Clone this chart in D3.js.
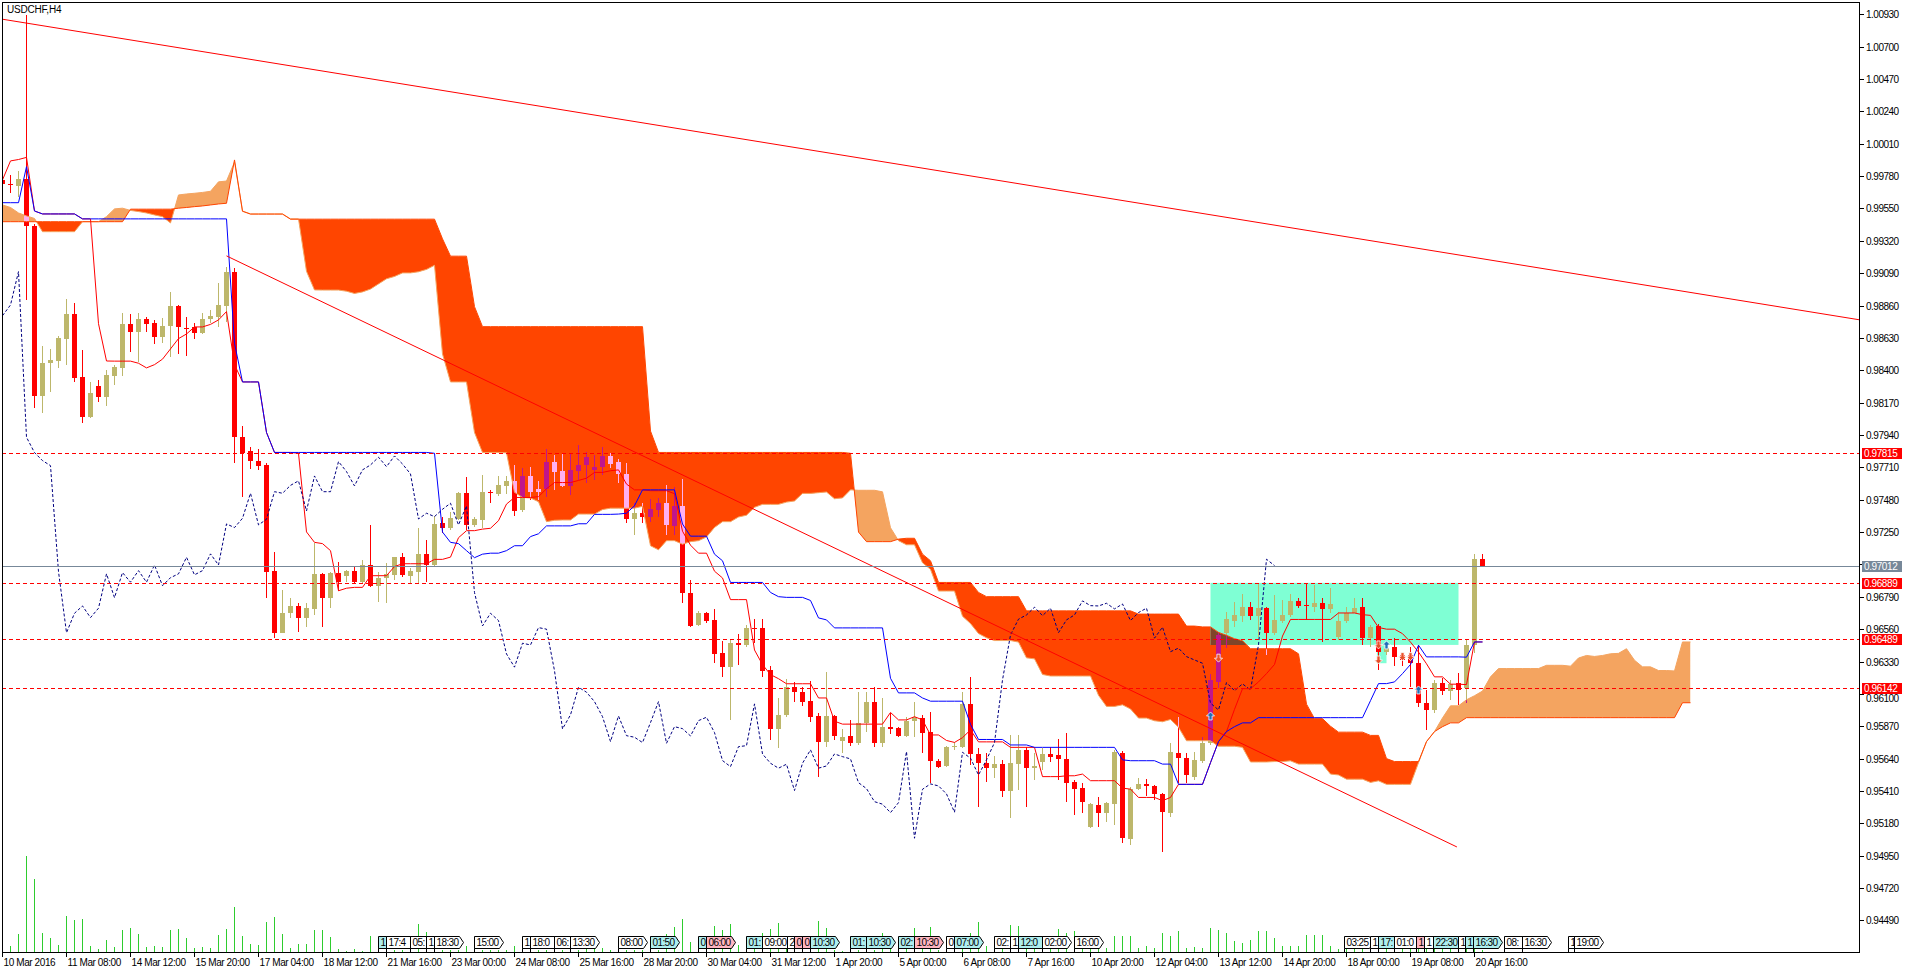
<!DOCTYPE html>
<html><head><meta charset="utf-8">
<script src="https://cdn.jsdelivr.net/npm/d3@7/dist/d3.min.js"></script>
<style>
html,body{margin:0;padding:0;background:#fff;overflow:hidden}
svg{display:block}
text{font-family:"Liberation Sans",Arial,sans-serif;}
</style>
</head><body>
<svg id="chart" width="1912" height="973"></svg>
<script>
// ---------------- DATA ----------------
const symbolTitle = "USDCHF,H4";
// H4 candles [open, high, low, close]
const ohlc = [
[0.99753,0.99767,0.99710,0.99724],[0.99724,0.99788,0.99658,0.99721],[0.99710,0.99817,0.99634,0.99758],[0.99758,1.00925,0.98900,0.99426],[0.99426,0.99440,0.98134,0.98218],
[0.98218,0.98573,0.98095,0.98450],[0.98450,0.98552,0.98248,0.98474],[0.98469,0.98646,0.98419,0.98632],[0.98623,0.98907,0.98438,0.98800],[0.98800,0.98876,0.98319,0.98348],
[0.98351,0.98545,0.98024,0.98071],[0.98071,0.98319,0.98060,0.98237],[0.98289,0.98331,0.98177,0.98213],[0.98213,0.98402,0.98149,0.98365],[0.98362,0.98438,0.98296,0.98426],
[0.98419,0.98805,0.98362,0.98729],[0.98729,0.98800,0.98533,0.98675],[0.98675,0.98810,0.98461,0.98763],[0.98763,0.98781,0.98675,0.98727],[0.98739,0.98758,0.98585,0.98639],
[0.98639,0.98770,0.98596,0.98717],[0.98717,0.98955,0.98497,0.98857],[0.98857,0.98864,0.98516,0.98710],[0.98703,0.98781,0.98504,0.98694],[0.98710,0.98734,0.98621,0.98668],
[0.98668,0.98805,0.98656,0.98763],[0.98763,0.98829,0.98734,0.98788],[0.98781,0.99019,0.98710,0.98864],[0.98857,0.99137,0.98746,0.99101],[0.99101,0.99125,0.97744,0.97924],
[0.97924,0.98004,0.97498,0.97815],[0.97827,0.97857,0.97697,0.97758],[0.97756,0.97841,0.97692,0.97722],[0.97727,0.97739,0.96780,0.96969],[0.96974,0.97111,0.96496,0.96535],
[0.96535,0.96839,0.96531,0.96673],[0.96673,0.96780,0.96638,0.96725],[0.96725,0.96749,0.96542,0.96642],[0.96642,0.96744,0.96578,0.96709],[0.96704,0.97171,0.96661,0.96953],
[0.96953,0.96962,0.96578,0.96784],[0.96784,0.96969,0.96709,0.96962],[0.96958,0.97036,0.96834,0.96894],[0.96941,0.96981,0.96894,0.96976],[0.96976,0.97004,0.96890,0.96894],
[0.96894,0.97052,0.96886,0.97016],[0.97016,0.97301,0.96862,0.96869],[0.96869,0.96969,0.96756,0.96926],[0.96922,0.97029,0.96749,0.96953],[0.96946,0.97076,0.96910,0.97071],
[0.97071,0.97100,0.96933,0.96946],[0.96941,0.96993,0.96881,0.96976],[0.96969,0.97277,0.96886,0.97095],[0.97095,0.97194,0.96898,0.97016],[0.97016,0.97365,0.97004,0.97308],
[0.97313,0.97360,0.97242,0.97282],[0.97277,0.97395,0.97265,0.97348],[0.97341,0.97537,0.97336,0.97526],[0.97530,0.97640,0.97265,0.97301],[0.97301,0.97360,0.97289,0.97341],
[0.97336,0.97656,0.97277,0.97537],[0.97537,0.97550,0.97455,0.97526],[0.97521,0.97649,0.97507,0.97582],[0.97580,0.97649,0.97519,0.97614],[0.97614,0.97727,0.97365,0.97400],
[0.97407,0.97704,0.97395,0.97649],[0.97649,0.97715,0.97479,0.97537],[0.97554,0.97614,0.97479,0.97537],[0.97554,0.97839,0.97502,0.97751],[0.97751,0.97798,0.97550,0.97680],
[0.97685,0.97815,0.97569,0.97578],[0.97578,0.97815,0.97514,0.97692],[0.97687,0.97869,0.97621,0.97727],[0.97727,0.97822,0.97597,0.97782],[0.97692,0.97798,0.97621,0.97715],
[0.97715,0.97857,0.97656,0.97791],[0.97791,0.97815,0.97704,0.97734],[0.97746,0.97768,0.97597,0.97663],[0.97663,0.97739,0.97313,0.97343],[0.97343,0.97455,0.97230,0.97384],
[0.97384,0.97455,0.97313,0.97360],[0.97360,0.97486,0.97324,0.97412],[0.97407,0.97491,0.97360,0.97455],[0.97455,0.97585,0.97230,0.97301],[0.97294,0.97573,0.97230,0.97436],
[0.97436,0.97626,0.96744,0.96820],[0.96815,0.96910,0.96574,0.96583],[0.96590,0.96692,0.96580,0.96673],[0.96673,0.96685,0.96607,0.96621],[0.96626,0.96702,0.96318,0.96384],
[0.96389,0.96479,0.96223,0.96290],[0.96290,0.96489,0.95915,0.96460],[0.96460,0.96526,0.96306,0.96448],[0.96448,0.96590,0.96436,0.96571],[0.96571,0.96631,0.96460,0.96560],
[0.96567,0.96631,0.96219,0.96265],[0.96270,0.96301,0.95773,0.95851],[0.95851,0.96069,0.95714,0.95951],[0.95951,0.96204,0.95934,0.96147],[0.96147,0.96187,0.96045,0.96112],
[0.96112,0.96147,0.96014,0.96045],[0.96050,0.96194,0.95903,0.95938],[0.95943,0.95962,0.95512,0.95761],[0.95761,0.96258,0.95725,0.95943],[0.95943,0.95951,0.95773,0.95803],
[0.95768,0.95849,0.95678,0.95792],[0.95801,0.95915,0.95730,0.95754],[0.95749,0.96116,0.95737,0.95896],[0.95892,0.96116,0.95832,0.96045],[0.96045,0.96152,0.95725,0.95749],
[0.95749,0.96073,0.95725,0.95867],[0.95863,0.95962,0.95816,0.95853],[0.95856,0.95867,0.95792,0.95801],[0.95801,0.95938,0.95796,0.95910],[0.95910,0.96045,0.95796,0.95934],
[0.95927,0.95951,0.95678,0.95825],[0.95832,0.95974,0.95465,0.95626],[0.95626,0.95636,0.95572,0.95583],[0.95588,0.95730,0.95583,0.95725],[0.95721,0.95757,0.95702,0.95732],
[0.95725,0.96112,0.95714,0.96029],[0.96029,0.96223,0.95595,0.95673],[0.95673,0.95714,0.95295,0.95607],[0.95607,0.95678,0.95477,0.95572],[0.95572,0.95659,0.95501,0.95600],
[0.95602,0.95631,0.95366,0.95413],[0.95413,0.95808,0.95216,0.95607],[0.95602,0.95808,0.95417,0.95702],[0.95702,0.95721,0.95295,0.95572],[0.95572,0.95678,0.95488,0.95588],
[0.95619,0.95714,0.95560,0.95673],[0.95673,0.95725,0.95619,0.95654],[0.95666,0.95778,0.95488,0.95638],[0.95638,0.95820,0.95334,0.95469],[0.95472,0.95489,0.95240,0.95427],
[0.95434,0.95465,0.95256,0.95334],[0.95157,0.95323,0.95145,0.95316],[0.95311,0.95370,0.95157,0.95256],[0.95256,0.95334,0.95192,0.95327],[0.95318,0.95702,0.95169,0.95690],
[0.95678,0.95697,0.95039,0.95074],[0.95067,0.95437,0.95027,0.95422],[0.95422,0.95501,0.95417,0.95460],[0.95460,0.95494,0.95375,0.95446],[0.95446,0.95453,0.95346,0.95389],
[0.95389,0.95398,0.94979,0.95259],[0.95256,0.95749,0.95223,0.95685],[0.95678,0.95934,0.95465,0.95643],[0.95643,0.95678,0.95465,0.95524],[0.95512,0.95685,0.95489,0.95631],
[0.95626,0.95796,0.95607,0.95754],[0.95749,0.96242,0.95737,0.96199],[0.96187,0.96543,0.96140,0.96519],[0.96535,0.96685,0.96425,0.96631],[0.96621,0.96756,0.96578,0.96661],
[0.96656,0.96808,0.96614,0.96716],[0.96716,0.96756,0.96626,0.96656],[0.96656,0.96882,0.96507,0.96709],[0.96709,0.96720,0.96377,0.96535],[0.96535,0.96803,0.96519,0.96626],
[0.96621,0.96768,0.96607,0.96661],[0.96661,0.96808,0.96645,0.96761],[0.96761,0.96780,0.96709,0.96727],[0.96732,0.96879,0.96626,0.96725],[0.96720,0.96874,0.96685,0.96744],
[0.96744,0.96780,0.96471,0.96704],[0.96704,0.96851,0.96673,0.96739],[0.96507,0.96685,0.96483,0.96621],[0.96621,0.96720,0.96603,0.96678],[0.96678,0.96780,0.96673,0.96709],
[0.96720,0.96784,0.96448,0.96496],[0.96496,0.96590,0.96436,0.96574],[0.96583,0.96597,0.96270,0.96400],[0.96400,0.96460,0.96377,0.96425],[0.96432,0.96496,0.96299,0.96365],
[0.96377,0.96389,0.96299,0.96341],[0.96377,0.96432,0.96152,0.96318],[0.96318,0.96448,0.96010,0.96034],[0.96034,0.96128,0.95844,0.95986],[0.95986,0.96199,0.95962,0.96180],
[0.96176,0.96211,0.96093,0.96123],[0.96123,0.96199,0.96057,0.96171],[0.96176,0.96247,0.96022,0.96128],[0.96140,0.96489,0.96034,0.96448],[0.96448,0.97095,0.96389,0.97057],
[0.97057,0.97095,0.97012,0.97012]
];
// tick volume per bar
const volumes = [
400,570,1830,9570,7330,1930,1430,730,3630,3230, 3330,630,330,1230,530,2230,2430,1830,530,630,
530,2230,2330,1430,430,530,430,1730,2330,4530, 1630,830,730,3030,3530,1830,430,830,830,2230,
2230,1530,330,100,330,100,1630,600,400,230, 230,500,2830,2030,600,230,230,230,630,500,
230,230,230,230,630,400,300,230,230,300, 230,300,230,300,400,430,230,300,230,230,
230,500,230,1830,2500,3330,1030,400,400,2630, 2230,2830,730,400,500,1930,2330,2930,500,400,
400,500,3130,2430,230,100,300,230,300,230, 1930,300,400,300,2430,300,2530,230,300,500,
1400,1900,2970,600,500,400,2730,2570,500,400, 300,400,2330,1900,2130,600,500,400,400,1630,
1630,1630,400,570,400,1900,1630,2070,400,500, 400,2400,2230,1900,1070,900,1230,2130,2130,1400,
570,570,570,1670,1670,1730,570,300,300,400, 400,300,400,300,300,300,400,500,300,300,
300,300,300,400,500,200
];
// Ichimoku Tenkan-sen (read per bar)
const tenkan = [
0.99753,0.99888,0.99898,0.99913,0.99532,0.99511,0.99511,0.99511,0.99511,0.99511,
0.99476,0.99476,0.98731,0.98466,0.98465,0.98465,0.98465,0.98450,0.98417,0.98440,
0.98479,0.98552,0.98625,0.98658,0.98708,0.98708,0.98726,0.98758,0.98817,0.98440,
0.98317,0.98317,0.98317,0.97958,0.97816,0.97816,0.97816,0.97810,0.97251,0.97177,
0.97168,0.97118,0.96833,0.96851,0.96857,0.96857,0.96940,0.96940,0.96940,0.97005,
0.97025,0.97025,0.97025,0.97025,0.97056,0.97056,0.97072,0.97210,0.97260,0.97260,
0.97271,0.97277,0.97331,0.97449,0.97496,0.97496,0.97496,0.97502,0.97558,0.97602,
0.97602,0.97602,0.97617,0.97633,0.97674,0.97674,0.97686,0.97692,0.97591,0.97550,
0.97550,0.97544,0.97544,0.97544,0.97523,0.97256,0.97157,0.97100,0.97100,0.96972,
0.96924,0.96770,0.96770,0.96770,0.96412,0.96308,0.96237,0.96208,0.96172,0.96172,
0.96172,0.96172,0.96071,0.96071,0.95906,0.95885,0.95885,0.95885,0.95885,0.95885,
0.95885,0.95968,0.95915,0.95915,0.95938,0.95915,0.95808,0.95808,0.95769,0.95755,
0.95789,0.95844,0.95759,0.95759,0.95759,0.95759,0.95720,0.95720,0.95720,0.95720,
0.95512,0.95512,0.95512,0.95518,0.95518,0.95530,0.95483,0.95483,0.95483,0.95483,
0.95430,0.95423,0.95364,0.95364,0.95364,0.95341,0.95364,0.95457,0.95457,0.95457,
0.95457,0.95611,0.95761,0.95832,0.95990,0.96137,0.96137,0.96185,0.96244,0.96309,
0.96511,0.96629,0.96629,0.96629,0.96629,0.96629,0.96629,0.96675,0.96675,0.96675,
0.96663,0.96658,0.96572,0.96560,0.96560,0.96528,0.96468,0.96397,0.96314,0.96221,
0.96221,0.96169,0.96169,0.96166,0.96469,0.96469
];
// Ichimoku Kijun-sen (read per bar)
const kijun = [
0.99591,0.99591,0.99591,0.99847,0.99532,0.99511,0.99511,0.99511,0.99511,0.99511,
0.99476,0.99476,0.99476,0.99476,0.99476,0.99476,0.99476,0.99476,0.99476,0.99476,
0.99476,0.99476,0.99476,0.99476,0.99476,0.99476,0.99476,0.99476,0.99476,0.98592,
0.98317,0.98317,0.98317,0.97958,0.97816,0.97816,0.97816,0.97816,0.97816,0.97816,
0.97816,0.97816,0.97816,0.97816,0.97816,0.97816,0.97816,0.97816,0.97816,0.97816,
0.97816,0.97816,0.97816,0.97816,0.97810,0.97250,0.97177,0.97168,0.97118,0.97068,
0.97093,0.97100,0.97100,0.97118,0.97153,0.97153,0.97218,0.97238,0.97294,0.97294,
0.97294,0.97294,0.97309,0.97309,0.97376,0.97376,0.97376,0.97378,0.97384,0.97437,
0.97550,0.97550,0.97550,0.97550,0.97550,0.97307,0.97221,0.97221,0.97221,0.97093,
0.97046,0.96892,0.96892,0.96892,0.96892,0.96892,0.96821,0.96791,0.96786,0.96786,
0.96786,0.96764,0.96640,0.96626,0.96569,0.96569,0.96569,0.96569,0.96569,0.96569,
0.96569,0.96211,0.96107,0.96107,0.96107,0.96071,0.96048,0.96048,0.96048,0.96048,
0.96048,0.95883,0.95776,0.95776,0.95776,0.95776,0.95737,0.95737,0.95737,0.95720,
0.95720,0.95720,0.95720,0.95720,0.95720,0.95720,0.95720,0.95720,0.95720,0.95720,
0.95631,0.95625,0.95625,0.95625,0.95625,0.95601,0.95601,0.95457,0.95457,0.95457,
0.95457,0.95611,0.95761,0.95832,0.95867,0.95894,0.95894,0.95931,0.95931,0.95931,
0.95931,0.95931,0.95931,0.95931,0.95931,0.95931,0.95931,0.95931,0.95931,0.95931,
0.95931,0.96052,0.96173,0.96173,0.96185,0.96244,0.96309,0.96446,0.96363,0.96363,
0.96363,0.96363,0.96363,0.96361,0.96469,0.96469
];
// Senkou Span A (already shifted 26 bars ahead; 212 points)
const spanA = [
0.99575,0.99557,0.99518,0.99497,0.99479,0.99385,0.99385,0.99385,0.99385,0.99385,
0.99456,0.99456,0.99456,0.99492,0.99547,0.99552,0.99536,0.99528,0.99518,0.99504,
0.99492,0.99447,0.99646,0.99653,0.99658,0.99664,0.99672,0.99739,0.99745,0.99880,
0.99532,0.99511,0.99511,0.99511,0.99511,0.99511,0.99476,0.99476,0.99103,0.98971,
0.98970,0.98970,0.98970,0.98962,0.98946,0.98957,0.98977,0.99014,0.99050,0.99067,
0.99092,0.99092,0.99100,0.99117,0.99146,0.98516,0.98317,0.98317,0.98317,0.97958,
0.97816,0.97816,0.97816,0.97813,0.97533,0.97496,0.97492,0.97466,0.97324,0.97334,
0.97336,0.97336,0.97378,0.97378,0.97378,0.97410,0.97420,0.97420,0.97420,0.97420,
0.97433,0.97153,0.97124,0.97189,0.97189,0.97164,0.97182,0.97189,0.97215,0.97283,
0.97324,0.97324,0.97357,0.97370,0.97426,0.97447,0.97447,0.97447,0.97463,0.97471,
0.97525,0.97525,0.97530,0.97535,0.97487,0.97493,0.97550,0.97547,0.97547,0.97547,
0.97536,0.97281,0.97189,0.97160,0.97160,0.97032,0.96985,0.96831,0.96831,0.96831,
0.96652,0.96600,0.96529,0.96499,0.96479,0.96479,0.96479,0.96468,0.96356,0.96349,
0.96238,0.96227,0.96227,0.96227,0.96227,0.96227,0.96227,0.96090,0.96011,0.96011,
0.96022,0.95993,0.95928,0.95928,0.95909,0.95902,0.95918,0.95863,0.95767,0.95767,
0.95767,0.95767,0.95728,0.95728,0.95728,0.95720,0.95616,0.95616,0.95616,0.95619,
0.95619,0.95624,0.95601,0.95601,0.95601,0.95601,0.95530,0.95524,0.95494,0.95494,
0.95494,0.95471,0.95482,0.95457,0.95457,0.95457,0.95457,0.95611,0.95761,0.95832,
0.95929,0.96015,0.96015,0.96058,0.96087,0.96120,0.96221,0.96280,0.96280,0.96280,
0.96280,0.96280,0.96280,0.96303,0.96303,0.96303,0.96297,0.96355,0.96373,0.96366,
0.96373,0.96385,0.96388,0.96421,0.96339,0.96292,0.96292,0.96266,0.96266,0.96263,
0.96469,0.96469
];
// Senkou Span B (already shifted 26 bars ahead; 212 points)
const spanB = [
0.99456,0.99456,0.99456,0.99456,0.99456,0.99456,0.99456,0.99456,0.99456,0.99456,
0.99456,0.99456,0.99456,0.99456,0.99456,0.99456,0.99545,0.99545,0.99545,0.99545,
0.99545,0.99545,0.99552,0.99557,0.99563,0.99568,0.99575,0.99582,0.99587,0.99895,
0.99530,0.99510,0.99510,0.99510,0.99510,0.99510,0.99474,0.99474,0.99474,0.99474,
0.99474,0.99474,0.99474,0.99474,0.99474,0.99474,0.99474,0.99474,0.99474,0.99474,
0.99474,0.99474,0.99474,0.99474,0.99474,0.99334,0.99211,0.99211,0.99211,0.98852,
0.98710,0.98710,0.98710,0.98710,0.98710,0.98710,0.98710,0.98710,0.98710,0.98710,
0.98710,0.98710,0.98710,0.98710,0.98710,0.98710,0.98710,0.98710,0.98710,0.98710,
0.98710,0.97968,0.97816,0.97816,0.97816,0.97816,0.97816,0.97816,0.97816,0.97816,
0.97816,0.97816,0.97816,0.97816,0.97816,0.97816,0.97816,0.97816,0.97816,0.97816,
0.97816,0.97816,0.97816,0.97816,0.97816,0.97816,0.97810,0.97250,0.97182,0.97182,
0.97182,0.97182,0.97200,0.97206,0.97206,0.97093,0.97046,0.96892,0.96892,0.96892,
0.96892,0.96892,0.96821,0.96791,0.96791,0.96791,0.96791,0.96791,0.96690,0.96690,
0.96690,0.96690,0.96690,0.96690,0.96690,0.96690,0.96690,0.96690,0.96690,0.96690,
0.96690,0.96690,0.96667,0.96667,0.96667,0.96667,0.96667,0.96667,0.96582,0.96582,
0.96576,0.96576,0.96537,0.96516,0.96492,0.96478,0.96421,0.96421,0.96421,0.96421,
0.96421,0.96421,0.96385,0.96027,0.95924,0.95924,0.95870,0.95828,0.95828,0.95828,
0.95828,0.95805,0.95805,0.95640,0.95619,0.95619,0.95619,0.95619,0.95761,0.95832,
0.95867,0.95894,0.95894,0.95931,0.95931,0.95931,0.95931,0.95931,0.95931,0.95931,
0.95931,0.95931,0.95931,0.95931,0.95931,0.95931,0.95931,0.95931,0.95931,0.95931,
0.95931,0.95931,0.95931,0.95931,0.95931,0.95931,0.95931,0.95931,0.95931,0.95931,
0.96037,0.96037
];
const chikouShift = 26;
// horizontal levels drawn on the chart
const levels = [0.97815, 0.96889, 0.96489, 0.96142];
const bidPrice = 0.97012;
// trend lines [bar0, price0, bar1, price1]
const trendLines = [[0, 1.00895, 232.19, 0.98758], [28, 0.99213, 181.8, 0.95012]];
// rectangles [bar0, bar1, priceTop, priceBottom]
const rectangles = [[151, 182, 0.96889, 0.96448], [171.8, 173, 0.96448, 0.96318]];
// trade arrows [bar, price, direction]
const tradeArrows = [[151,0.95943,"up"],[152,0.96354,"down"],[172,0.96448,"down"],[172,0.96341,"down"],
  [173,0.96448,"up"],[175,0.96365,"down"],[176,0.96365,"down"],[177,0.96128,"up"]];
// axis labels
const xTickLabels = ["10 Mar 2016","11 Mar 08:00","14 Mar 12:00","15 Mar 20:00","17 Mar 04:00","18 Mar 12:00",
  "21 Mar 16:00","23 Mar 00:00","24 Mar 08:00","25 Mar 16:00","28 Mar 20:00","30 Mar 04:00","31 Mar 12:00",
  "1 Apr 20:00","5 Apr 00:00","6 Apr 08:00","7 Apr 16:00","10 Apr 20:00","12 Apr 04:00","13 Apr 12:00",
  "14 Apr 20:00","18 Apr 00:00","19 Apr 08:00","20 Apr 16:00"];
const xTickEvery = 8;
const yTickLabels = ["1.00930","1.00700","1.00470","1.00240","1.00010","0.99780","0.99550","0.99320","0.99090",
  "0.98860","0.98630","0.98400","0.98170","0.97940","0.97710","0.97480","0.97250","0.97020","0.96790","0.96560",
  "0.96330","0.96100","0.95870","0.95640","0.95410","0.95180","0.94950","0.94720","0.94490"];
// calendar events [bar, time label, kind]
const events = [
 [47,"12:30","c"],[48,"17:40","w"],[51,"05:00","w"],[53,"11:00","w"],[54,"18:30","w"],
 [59,"15:00","w"],[65,"13:00","w"],[66,"18:00","w"],[69,"06:30","w"],[71,"13:30","w"],
 [77,"08:00","w"],[81,"01:50","c"],[87,"00:30","c"],[88,"06:00","p"],[93,"01:45","c"],
 [95,"09:00","w"],[98.1,"23:45","w"],[99,"01:00","p"],[100,"02:00","p"],[101,"10:30","c"],
 [106,"01:30","c"],[108,"10:30","c"],[112,"02:30","c"],[114,"10:30","p"],[118,"04:00","w"],
 [119,"07:00","c"],[124,"02:30","w"],[126,"12:30","w"],[127,"12:00","c"],[130,"02:00","w"],
 [134,"16:00","w"],[167.8,"03:25","w"],[171,"12:30","w"],[172,"17:00","c"],[174,"01:00","w"],
 [176.8,"12:00","p"],[177.8,"13:30","w"],[178.9,"22:30","c"],[182,"14:00","w"],[182.9,"12:30","c"],
 [183.9,"16:30","c"],[187.7,"08:30","w"],[190,"16:30","w"],[195.7,"12:30","w"],[196.5,"19:00","w"]
];

// ---------------- DRAW ----------------
const svg = d3.select("#chart");
const PL=2, PT=2, PR=1860, PB=952;
const x = d3.scaleLinear().domain([0, 232.1875]).range([2.5, 1860]);
const y = d3.scaleLinear().domain([0.942655, 1.010174]).range([952, 2]);
const defs = svg.append("defs");
defs.append("clipPath").attr("id","plotClip").append("rect")
  .attr("x",PL).attr("y",PT).attr("width",PR-PL).attr("height",PB-PT);
const gp = svg.append("g").attr("clip-path","url(#plotClip)");

// volumes
const vy = d3.scaleLinear().domain([0, d3.max(volumes)]).range([952, 856.3]);
gp.append("g").attr("shape-rendering","crispEdges").selectAll("line").data(volumes).join("line")
  .attr("x1",(d,i)=>x(i)).attr("x2",(d,i)=>x(i)).attr("y1",952).attr("y2",d=>vy(d))
  .attr("stroke","#2ECC2E").attr("stroke-width",1);

// cloud
const idxC = d3.range(spanA.length);
const areaAB = d3.area().x(i=>x(i)).y0(i=>y(spanB[i])).y1(i=>y(spanA[i]));
const aboveB = d3.area().x(i=>x(i)).y0(i=>y(spanB[i])).y1(0);
const belowB = d3.area().x(i=>x(i)).y0(i=>y(spanB[i])).y1(973);
defs.append("clipPath").attr("id","cAbove").append("path").attr("d",aboveB(idxC));
defs.append("clipPath").attr("id","cBelow").append("path").attr("d",belowB(idxC));
defs.append("clipPath").attr("id","cCloud").append("path").attr("d",areaAB(idxC));
gp.append("path").attr("d",areaAB(idxC)).attr("fill","#F4A460").attr("clip-path","url(#cAbove)");
gp.append("path").attr("d",areaAB(idxC)).attr("fill","#FF4500").attr("clip-path","url(#cBelow)");

// rectangles
const rc = defs.append("clipPath").attr("id","cRect");
rectangles.forEach(r=>{
  const rx=x(r[0]), rw=x(r[1])-x(r[0]), ry=y(r[2]), rh=y(r[3])-y(r[2]);
  gp.append("rect").attr("x",rx).attr("y",ry).attr("width",rw).attr("height",rh).attr("fill","#7FFFD4");
  rc.append("rect").attr("x",rx).attr("y",ry).attr("width",rw).attr("height",rh);
});
gp.append("g").attr("clip-path","url(#cRect)").append("path").attr("d",areaAB(idxC))
  .attr("fill","#7F452A").attr("clip-path","url(#cBelow)");

// candles
function drawCandles(parent, colUp, colDn){
  const gc = parent.append("g").attr("shape-rendering","crispEdges");
  ohlc.forEach((d,i)=>{
    const c = d[3] >= d[0] ? colUp : colDn;
    gc.append("line").attr("x1",x(i)).attr("x2",x(i)).attr("y1",y(d[1])).attr("y2",y(d[2])).attr("stroke",c);
    const yo=y(d[0]), yc=y(d[3]);
    gc.append("rect").attr("x",x(i)-2.5).attr("width",5).attr("y",Math.min(yo,yc))
      .attr("height",Math.max(1,Math.abs(yo-yc))).attr("fill",c);
  });
}
drawCandles(gp,"#BDB76B","#FF0000");
drawCandles(gp.append("g").attr("clip-path","url(#cCloud)"),"#C0168C","#FFB0F0");

// span lines
const ln = arr => d3.line().x(i=>x(i)).y(i=>y(arr[i]));
gp.append("path").attr("d",ln(spanA)(idxC)).attr("fill","none").attr("stroke","#F4A460");
gp.append("path").attr("d",ln(spanB)(idxC)).attr("fill","none").attr("stroke","#FF4500");
const idxP = d3.range(ohlc.length);
gp.append("path").attr("d",ln(tenkan)(idxP)).attr("fill","none").attr("stroke","#FF0000");
gp.append("path").attr("d",ln(kijun)(idxP)).attr("fill","none").attr("stroke","#0000FF");
const idxK = d3.range(ohlc.length - chikouShift);
gp.append("path").attr("d",d3.line().x(i=>x(i)).y(i=>y(ohlc[i+chikouShift][3]))(idxK))
  .attr("fill","none").attr("stroke","#000080").attr("stroke-dasharray","3,2");

// trend lines
trendLines.forEach(t=>{
  gp.append("line").attr("x1",x(t[0])).attr("y1",y(t[1])).attr("x2",x(t[2])).attr("y2",y(t[3]))
    .attr("stroke","#FF0000").attr("stroke-width",1);
});
// levels
levels.forEach(p=>{
  gp.append("line").attr("x1",PL).attr("x2",PR).attr("y1",Math.round(y(p))+0.5).attr("y2",Math.round(y(p))+0.5)
    .attr("stroke","#FF0000").attr("stroke-dasharray","4,3");
});
gp.append("line").attr("x1",PL).attr("x2",PR).attr("y1",Math.round(y(bidPrice))+0.5).attr("y2",Math.round(y(bidPrice))+0.5)
  .attr("stroke","#778899");

// trade arrows
tradeArrows.forEach(a=>{
  const cx=x(a[0]), cy=y(a[1]);
  const s = a[2]==="up" ? 1 : -1;
  const pts = [[0,-4],[4,0],[1.6,0],[1.6,4],[-1.6,4],[-1.6,0],[-4,0]].map(p=>[cx+p[0], cy+p[1]*s]);
  gp.append("path").attr("d","M"+pts.map(p=>p.join(",")).join("L")+"Z")
    .attr("fill", a[2]==="up" ? "#1F6FB8" : "#E8502A").attr("stroke","#fff").attr("stroke-width",0.8);
});

// border
svg.append("rect").attr("x",2.5).attr("y",2.5).attr("width",1857).attr("height",949.5)
  .attr("fill","none").attr("stroke","#000").attr("shape-rendering","crispEdges");

// y axis
const ya = svg.append("g");
const tagPrices = levels.concat([bidPrice]);
yTickLabels.forEach(s=>{
  const v = parseFloat(s);
  const yy = Math.round(y(v))+0.5;
  ya.append("line").attr("x1",1860).attr("x2",1864).attr("y1",yy).attr("y2",yy).attr("stroke","#000");
  // a label sitting right under a price tag is hidden in the terminal
  const hidden = tagPrices.some(p=>Math.abs(y(p)-y(v))<3);
  if(hidden) return;
  // labels touching a price tag are nudged just clear of it
  let ty = yy + 3.6;
  tagPrices.forEach(p=>{
    const top = Math.round(y(p))-5, bot = Math.round(y(p))+6;
    if (ty > top && ty-7.4 < bot) ty = (yy > y(p)) ? bot + 7.6 : top - 0.3;
  });
  ya.append("text").attr("x",1866).attr("y",ty).attr("font-size",10).style("letter-spacing","-0.5px").text(s);
});
function priceTag(p, fill){
  const yy = Math.round(y(p));
  ya.append("rect").attr("x",1862).attr("y",yy-5).attr("width",40).attr("height",11).attr("fill",fill);
  ya.append("text").attr("x",1864).attr("y",yy+4).attr("font-size",10).style("letter-spacing","-0.4px")
    .attr("fill","#fff").text(p.toFixed(5));
}
levels.forEach(p=>priceTag(p,"#FF0000"));
priceTag(bidPrice,"#778899");

// x axis
const xa = svg.append("g");
xTickLabels.forEach((s,k)=>{
  const xx = Math.floor(x(k*xTickEvery))+0.5;
  xa.append("line").attr("x1",xx).attr("x2",xx).attr("y1",952).attr("y2",957).attr("stroke","#000");
  xa.append("text").attr("x",xx+1).attr("y",965.5).attr("font-size",10).style("letter-spacing","-0.4px").text(s);
});

// events (later boxes cover earlier ones, as in the terminal)
const evFill = {w:"#FFFFFF", c:"#AFEEEE", p:"#FFB6C1"};
const eg = svg.append("g");
events.forEach((e,k)=>{
  const ex = Math.floor(x(e[0]))+0.5;
  const nextX = k < events.length-1 ? Math.floor(x(events[k+1][0]))+0.5 : Infinity;
  const g = eg.append("g");
  const path = g.append("path");
  const t = g.append("text").attr("x",ex+2).attr("y",946).attr("font-size",10)
    .style("letter-spacing","-0.6px").text(e[1]);
  const w = Math.round(t.node().getComputedTextLength()) + 3;
  path.attr("d",`M${ex},936.5H${ex+w}L${ex+w+4},942.5L${ex+w},948.5H${ex}Z`)
    .attr("fill",evFill[e[2]]).attr("stroke","#000").attr("stroke-width",1);
  // keep only the characters left visible by the next box
  let s = e[1];
  while (s.length > 1 && ex + 2 + t.node().getComputedTextLength() > nextX - 0.5) {
    s = s.slice(0,-1); t.text(s);
  }
  g.append("line").attr("x1",ex).attr("x2",ex).attr("y1",948.5).attr("y2",952).attr("stroke","#000");
});

// title
svg.append("text").attr("x",7).attr("y",13).attr("font-size",10).style("letter-spacing","-0.2px").text(symbolTitle);
</script>
</body></html>
